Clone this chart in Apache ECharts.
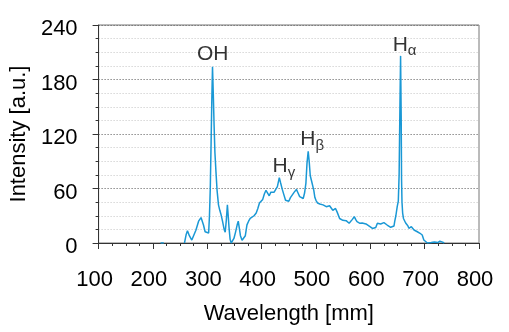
<!DOCTYPE html>
<html>
<head>
<meta charset="utf-8">
<script src="https://cdn.jsdelivr.net/npm/echarts@6/dist/echarts.min.js"></script>
<style>html,body{margin:0;padding:0;background:#fff}#c{width:509px;height:332px}</style>
</head>
<body>
<div id="c"></div>
<script>
// Spectrum: wavelength (nm) and intensity (a.u.)
const wavelength = [214,217,220,null,
 258,261,263.5,267,271.5,275,279,284,288.5,293,296,299,302.5,304,305.5,307,308.4,309.6,
 311,312.5,314,316,318,320.6,323,325,328,331,333,335,337,338.5,340,342,344,346,349,352,355,357,359,361,364,367,
 370,373,376,379,382,386,390,393,396,399,402,405,408,411,414,417,420,423,426,429,432.5,435,438,441,444,447,
 450,453,456,460,464,467,470,473,476.5,479,481.5,483.5,485.7,487.5,489.5,492,494,496,498,500,503,507,510,513,
 516,519,522,525,528,531,533,536,539,541,543.5,546,549.5,552,555.5,558,561,564,567,570.5,573,575.5,578,581,
 585,588.5,592,595,598,601,604,607,610,613,616,619,622,625,628,631,634,637.5,640,643.5,645,647,649.5,651.5,
 653,654.5,655.7,656.8,657.5,658.3,659.5,661,662.5,665,667,669,671,673,675.5,678,680.5,683,686.5,689,691.5,
 693.5,695.5,698.5,701.5,705,712,718,721,724,728,731,733,736];
const intensity = [0,2,0,null,
 0,9,13.5,8,3.3,5,14,24,28,19.8,12.4,10.7,11,30,60,110,160,194,
 165,130,100,78,58,42,36,32,24,15,12,25,42,30,17,4,0,0.5,5,12,20,24,16,8,3,3,
 8,20,24,27,29,30,33,38,44,42,48,54,58,55,52,56,58,56,55,62,72,66,59,53,47,45,
 46,50,52,56,59,55,51,50,49,55,66,88,101,90,74,68,66,58,50,47,44,43,43,42,
 41,40,40,41,39,36,37,38,34,32,27,26,25,26,24.6,23,21.7,23,26,29,26,23.5,22,21.7,
 22,22.4,21,19.8,18.5,17.9,16,14.3,17,21.7,21,20.9,21.5,22.4,21,19.8,18.5,17.3,18,18.7,24,30,40,46,
 75,150,206,140,70,45,33,27,25,22,21.7,19,16.2,17,17.9,16,14.3,13,12.4,12,10.7,
 10,8.8,3.3,1.4,0,0.5,1,2.5,0.5,2,3.3,1,0];

// Peak annotations
const peakNames = ['OH', 'H{s|γ}', 'H{s|β}', 'H{s|α}'];
const peakX = [310, 441, 493, 663];
const peakY = [208, 84, 114, 218];

const yTicks = {min: 0, max: 240, interval: 60};
const xTicks = {min: 100, max: 800, interval: 100};

const spectrum = wavelength.map((w, i) => (w === null ? [null, null] : [w, intensity[i]]));
const notes = peakNames.map((n, i) => ({value: [peakX[i], peakY[i]], name: n}));

const font = 'Liberation Sans, Arial, sans-serif';
const chart = echarts.init(document.getElementById('c'), null, {renderer: 'canvas'});
chart.setOption({
  animation: false,
  backgroundColor: '#fff',
  grid: {left: 96, right: 30, top: 25, bottom: 89, show: true, borderColor: '#777', borderWidth: 1, backgroundColor: 'transparent'},
  xAxis: {
    type: 'value', min: xTicks.min, max: xTicks.max, interval: xTicks.interval,
    name: 'Wavelength [mm]', nameLocation: 'middle', nameGap: 60,
    nameTextStyle: {fontFamily: font, fontSize: 22, color: '#000'},
    axisLine: {show: true, onZero: false, lineStyle: {color: '#333', width: 1}},
    axisTick: {show: true, inside: false, length: 6, lineStyle: {color: '#333'}},
    minorTick: {show: true, splitNumber: 4, length: 3, lineStyle: {color: '#333'}},
    axisLabel: {fontFamily: font, fontSize: 22, color: '#000', margin: 26, padding: [0, 8, 0, 0]},
    splitLine: {show: false},
    minorSplitLine: {show: false}
  },
  yAxis: {
    type: 'value', min: yTicks.min, max: yTicks.max, interval: yTicks.interval,
    name: 'Intensity [a.u.]', nameLocation: 'middle', nameGap: 66, nameRotate: 90,
    nameTextStyle: {fontFamily: font, fontSize: 22, color: '#000'},
    axisLine: {show: true, lineStyle: {color: '#333', width: 1}},
    axisTick: {show: true, inside: false, length: 6, lineStyle: {color: '#333'}},
    minorTick: {show: true, splitNumber: 4, length: 3, lineStyle: {color: '#333'}},
    axisLabel: {fontFamily: font, fontSize: 22, color: '#000', margin: 21,
      formatter: '{v|{value}}', rich: {v: {fontFamily: font, fontSize: 22, color: '#000', padding: [8, 0, 0, 0]}}},
    splitLine: {show: true, lineStyle: {color: '#555', type: [1, 2], width: 1}},
    minorSplitLine: {show: true, lineStyle: {color: '#c4c4c4', type: [1, 2], width: 1}}
  },
  series: [
    {
      type: 'line', data: spectrum, showSymbol: false, connectNulls: false,
      lineStyle: {color: '#1a98d5', width: 1.5}, silent: true, z: 3
    },
    {
      type: 'scatter', data: notes, symbolSize: 0, silent: true, z: 5,
      label: {
        show: true, position: 'inside',
        formatter: p => p.name,
        fontFamily: font, fontSize: 21, color: '#000', textBorderWidth: 0,
        rich: {s: {fontFamily: font, fontSize: 15, color: '#000', textBorderWidth: 0, padding: [12, 0, 0, 0]}}
      }
    }
  ]
});
</script>
</body>
</html>
